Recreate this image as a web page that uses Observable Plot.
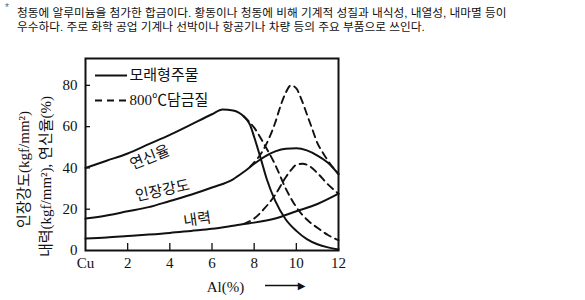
<!DOCTYPE html>
<html>
<head>
<meta charset="utf-8">
<script src="https://cdn.jsdelivr.net/npm/d3@7"></script>
<script src="https://cdn.jsdelivr.net/npm/@observablehq/plot@0.6"></script>
<style>
  body { margin: 0; background: #fff; }
  #wrap { width: 585px; height: 300px; position: relative; overflow: hidden; background: #fff; }
  #hdr { position: relative; height: 40px; font-family: "Liberation Sans", "Noto Sans CJK KR", sans-serif; font-size: 11.7px; line-height: 14px; color: #111; }
  #hdr .ast { position: absolute; left: 5px; top: 3px; font-size: 10px; line-height: 10px; color: #666; }
  #hdr .ln { position: absolute; left: 17px; white-space: nowrap; height: 14px; }
  #chart svg { display: block; }
</style>
</head>
<body>
<div id="wrap">
  <div id="hdr"><span class="ast">*</span></div>
  <div id="chart"></div>
</div>
<script>
// ---- text ----
const headerLines = [
  "청동에 알루미늄을 첨가한 합금이다. 황동이나 청동에 비해 기계적 성질과 내식성, 내열성, 내마멸 등이",
  "우수하다. 주로 화학 공업 기계나 선박이나 항공기나 차량 등의 주요 부품으로 쓰인다."
];
const yTitleLines = ["인장강도(kgf/mm²)", "내력(kgf/mm²), 연신율(%)"];
const xTitle = "Al(%)";
const legendLabels = ["모래형주물", "800℃담금질"];

// ---- ticks ----
const xTickValues = [0, 2, 4, 6, 8, 10, 12];
const xTickLabels = ["Cu", "2", "4", "6", "8", "10", "12"];
const yTickValues = [0, 20, 40, 60, 80];
const xInnerTicks = [2, 4, 6, 8, 10];
const yInnerTicks = [20, 40, 60, 80];

// ---- series (Al %, value) ----
const castElongAl  = [0, 1, 2, 3, 4, 5, 6, 6.5, 7, 7.5, 7.8, 8, 8.3, 8.6, 9, 9.5, 10, 10.5, 11, 11.5, 12];
const castElongVal = [40, 43.5, 47, 51.5, 56, 61, 66, 68.3, 67.8, 65, 61, 55, 45, 34.5, 24, 15, 9.5, 5.5, 3, 1.5, 0.5];

const quenchElongAl  = [7.5, 8, 8.5, 9, 9.5, 10, 10.5, 11, 11.5, 12];
const quenchElongVal = [65, 59.5, 51, 41.5, 30, 21, 15, 11, 7.5, 5];

const castTensileAl  = [0, 1, 2, 3, 4, 5, 6, 7, 7.5, 8, 8.5, 9, 9.5, 10, 10.5, 11, 11.5, 12];
const castTensileVal = [15.5, 17, 19, 21, 24, 27, 30.5, 34.5, 38, 42, 45.5, 48, 49.3, 49.5, 48.5, 46, 42.5, 37];

const quenchTensileAl  = [7.8, 8.5, 9, 9.25, 9.5, 9.75, 10, 10.25, 10.5, 10.75, 11, 11.25, 11.5, 12];
const quenchTensileVal = [40.5, 50, 62, 70, 76.5, 80, 78.5, 73, 66, 59, 52, 47.5, 43.5, 37];

const castYieldAl  = [0, 1, 2, 3, 4, 5, 6, 7, 7.5, 8, 9, 10, 11, 12];
const castYieldVal = [5.8, 6.3, 7, 7.7, 8.5, 9.5, 10.5, 12, 12.8, 13.5, 15.5, 19, 22.5, 27.5];

const quenchYieldAl  = [7.5, 8, 8.5, 9, 9.5, 9.75, 10, 10.3, 10.6, 11, 11.5, 12];
const quenchYieldVal = [12.8, 15.5, 20.5, 27, 35.5, 39, 41.5, 42, 41, 37.5, 32, 27.5];

// ---- curve labels ----
const curveLabels     = ["연신율", "인장강도", "내력"];
const curveLabelAl    = [3.05, 3.65, 5.3];
const curveLabelVal   = [45, 29, 15];
const curveLabelAngle = [-22, -12, -8];

// header
const hdr = document.getElementById("hdr");
headerLines.forEach((t, i) => {
  const d = document.createElement("div");
  d.className = "ln";
  d.style.top = (6 + 14 * i) + "px";
  d.textContent = t;
  hdr.appendChild(d);
});

const zip = (xs, ys) => xs.map((x, i) => ({x, y: ys[i]}));
const solidSeries = [zip(castElongAl, castElongVal), zip(castTensileAl, castTensileVal), zip(castYieldAl, castYieldVal)];
const dashSeries = [zip(quenchElongAl, quenchElongVal), zip(quenchTensileAl, quenchTensileVal), zip(quenchYieldAl, quenchYieldVal)];
const labelData = curveLabels.map((t, i) => ({t, x: curveLabelAl[i], y: curveLabelVal[i], a: curveLabelAngle[i]}));

const ink = "#111";
const serif = "'Liberation Serif', 'Noto Sans CJK KR', serif";
const korean = "'Noto Sans CJK KR', sans-serif";
const DASH = "7,5";

const marks = [
  Plot.frame({stroke: ink, strokeWidth: 2}),
  Plot.tickX(xInnerTicks, {x: d => d, insetTop: 185, stroke: ink, strokeWidth: 1.3}),
  Plot.tickY(yInnerTicks, {y: d => d, insetRight: 248, stroke: ink, strokeWidth: 1.3}),
  Plot.axisX(xTickValues, {tickSize: 0, tickPadding: 7, tickFormat: d => xTickLabels[xTickValues.indexOf(d)], label: null, fontSize: 15, fontFamily: serif}),
  Plot.axisY(yTickValues, {tickSize: 0, tickPadding: 8, label: null, fontSize: 15, fontFamily: serif}),
  ...solidSeries.map(s => Plot.line(s, {x: "x", y: "y", curve: "monotone-x", stroke: ink, strokeWidth: 2})),
  ...dashSeries.map(s => Plot.line(s, {x: "x", y: "y", curve: "monotone-x", stroke: ink, strokeWidth: 1.9, strokeDasharray: DASH})),
  Plot.text(labelData, {x: "x", y: "y", text: "t", rotate: "a", fontSize: 15, fontFamily: korean, fill: ink}),
  // legend
  Plot.ruleY([0], {insetLeft: 10, insetRight: 211, dy: -175, stroke: ink, strokeWidth: 2}),
  Plot.ruleY([0], {insetLeft: 10, insetRight: 211, dy: -150, stroke: ink, strokeWidth: 1.9, strokeDasharray: DASH}),
  Plot.text([legendLabels[0]], {frameAnchor: "top-left", dx: 44, dy: 17, textAnchor: "start", lineAnchor: "middle", fontSize: 15, fontFamily: korean, fill: ink}),
  Plot.text([legendLabels[1]], {frameAnchor: "top-left", dx: 44, dy: 42, textAnchor: "start", lineAnchor: "middle", fontSize: 15, fontFamily: serif, fill: ink}),
  // y title (two rotated lines)
  Plot.text([yTitleLines[0]], {frameAnchor: "left", dx: -61, dy: 15, rotate: -90, textAnchor: "middle", lineAnchor: "middle", fontSize: 15, fontFamily: serif, fill: ink}),
  Plot.text([yTitleLines[1]], {frameAnchor: "left", dx: -39, dy: 22, rotate: -90, textAnchor: "middle", lineAnchor: "middle", fontSize: 15, fontFamily: serif, fill: ink}),
  // x title and arrow
  Plot.text([xTitle], {frameAnchor: "bottom", dx: 13.5, dy: 37, textAnchor: "middle", lineAnchor: "middle", fontSize: 15, fontFamily: serif, fill: ink}),
  Plot.ruleY([0], {insetLeft: 180, insetRight: 40, dy: 35, stroke: ink, strokeWidth: 1.6}),
  Plot.text(["▶"], {frameAnchor: "bottom-right", dx: -37, dy: 35, textAnchor: "middle", lineAnchor: "middle", fontSize: 10, fontFamily: "DejaVu Sans", fill: ink})
];

const chart = Plot.plot({
  width: 585,
  height: 260,
  marginLeft: 85,
  marginRight: 247,
  marginTop: 18,
  marginBottom: 50,
  x: {domain: [0, 12]},
  y: {domain: [0, 93]},
  style: {background: "#fff", color: ink, fontFamily: serif, fontSize: "15px", overflow: "visible"},
  marks
});
document.getElementById("chart").appendChild(chart);
</script>
</body>
</html>
